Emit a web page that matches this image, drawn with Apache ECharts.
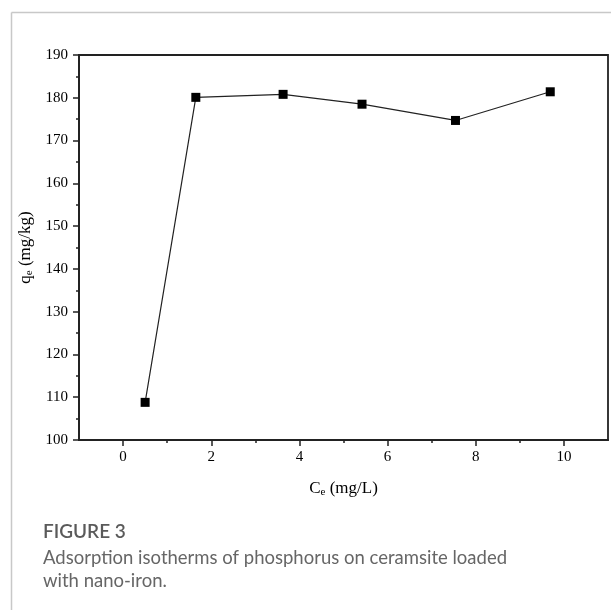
<!DOCTYPE html>
<html>
<head>
<meta charset="utf-8">
<script src="https://cdn.jsdelivr.net/npm/echarts@6/dist/echarts.min.js"></script>
<style>
  html, body { margin: 0; padding: 0; background: #fff; }
  #chart { width: 611px; height: 612px; }
</style>
</head>
<body>
<div id="chart"></div>
<script>
// C_e (mg/L) and q_e (mg/kg)
const ceValues = [0.50, 1.65, 3.63, 5.42, 7.54, 9.69];
const qeValues = [108.8, 180.1, 180.8, 178.5, 174.7, 181.4];
const xTickLabels = [0, 2, 4, 6, 8, 10];
const xMinorTicks = [1, 3, 5, 7, 9];

const captionTitle = 'FIGURE 3';
const captionLines = [
  'Adsorption isotherms of phosphorus on ceramsite loaded',
  'with nano-iron.'
];

const serif = '"Liberation Serif", "DejaVu Serif", serif';
const axisColor = '#222';

let chart = echarts.init(document.getElementById('chart'), null, { renderer: 'canvas' });

let subRich = {
  sub: { fontFamily: serif, fontSize: 11, color: '#000', verticalAlign: 'bottom', padding: [8, 0, 0, 0] }
};

let option = {
  backgroundColor: '#fff',
  animation: false,
  grid: {
    left: 79, right: 3, top: 55, bottom: 172,
    show: true, borderColor: axisColor, borderWidth: 1.8, backgroundColor: 'transparent'
  },
  xAxis: [
    {
      type: 'value', min: -1, max: 11,
      splitLine: { show: false },
      axisLine: { onZero: false, lineStyle: { color: axisColor, width: 1.8 } },
      axisTick: { show: true, customValues: xTickLabels, length: 6, lineStyle: { color: axisColor, width: 1.5 } },
      axisLabel: { customValues: xTickLabels, color: '#000', fontFamily: serif, fontSize: 15, margin: 10 },
      name: 'C{sub|e} (mg/L)', nameLocation: 'middle', nameGap: 39,
      nameTextStyle: { fontFamily: serif, fontSize: 17, color: '#000', rich: subRich }
    },
    {
      type: 'value', min: -1, max: 11, position: 'bottom',
      splitLine: { show: false },
      axisLine: { show: false, onZero: false },
      axisTick: { show: true, customValues: xMinorTicks, length: 3, lineStyle: { color: axisColor, width: 1.5 } },
      axisLabel: { show: false }
    }
  ],
  yAxis: [
    {
      type: 'value', min: 100, max: 190, interval: 10,
      splitLine: { show: false },
      axisLine: { show: true, onZero: false, lineStyle: { color: axisColor, width: 1.8 } },
      axisTick: { show: true, length: 6, lineStyle: { color: axisColor, width: 1.5 } },
      minorTick: { show: true, splitNumber: 2, length: 3, lineStyle: { color: axisColor, width: 1.5 } },
      axisLabel: { color: '#000', fontFamily: serif, fontSize: 15, margin: 11 },
      name: 'q{sub|e} (mg/kg)', nameLocation: 'middle', nameGap: 33, nameRotate: 90,
      nameTextStyle: { fontFamily: serif, fontSize: 17, color: '#000', rich: subRich }
    }
  ],
  series: [
    {
      type: 'line',
      data: ceValues.map((x, i) => [x, qeValues[i]]),
      symbol: 'rect', symbolSize: 9,
      itemStyle: { color: '#000' },
      lineStyle: { color: '#222', width: 1.2 }
    }
  ],
  graphic: [
    // card frame (top and left edges)
    { type: 'line', shape: { x1: 11.5, y1: 12.5, x2: 611, y2: 12.5 }, style: { stroke: '#c8c8c8', lineWidth: 1.5 } },
    { type: 'line', shape: { x1: 11.5, y1: 12.5, x2: 11.5, y2: 610 }, style: { stroke: '#c8c8c8', lineWidth: 1.5 } },
    {
      type: 'text', left: 43, top: 522,
      style: { text: captionTitle, font: '600 19px "Lato", "Open Sans", sans-serif', fill: '#5a5a5a' }
    },
    {
      type: 'text', left: 43, top: 547,
      style: { text: captionLines.join('\n'), font: '18.5px "Lato", "Open Sans", sans-serif', fill: '#666', lineHeight: 23 }
    }
  ]
};

chart.setOption(option);
</script>
</body>
</html>
